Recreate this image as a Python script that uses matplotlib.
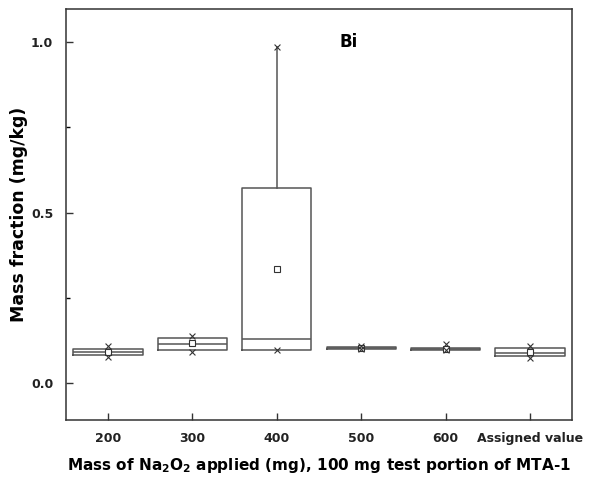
import matplotlib
matplotlib.use("Agg")
import matplotlib.pyplot as plt
from matplotlib.ticker import MultipleLocator, FormatStrFormatter

plt.rcParams["font.family"] = ["DejaVu Sans"]
plt.rcParams["mathtext.default"] = "bf"

# Bi results per Na2O2 mass (box statistics, mg/kg)
categories = ["200", "300", "400", "500", "600", "Assigned value"]
q1 = [0.082, 0.096, 0.097, 0.101, 0.098, 0.080]
median = [0.090, 0.114, 0.129, 0.103, 0.101, 0.089]
q3 = [0.099, 0.132, 0.572, 0.106, 0.104, 0.103]
whisker_low = [0.082, 0.096, 0.097, 0.101, 0.098, 0.080]
whisker_high = [0.099, 0.132, 0.985, 0.106, 0.104, 0.103]
mean = [0.090, 0.117, 0.334, 0.104, 0.101, 0.092]
minimum = [0.076, 0.092, 0.097, 0.099, 0.098, 0.073]
maximum = [0.108, 0.138, 0.985, 0.109, 0.114, 0.110]

edge = "#555555"

fig = plt.figure(figsize=(5.98, 4.82), dpi=100)
ax = fig.add_axes([0.110, 0.129, 0.847, 0.852])

stats = []
for i, name in enumerate(categories):
    stats.append(dict(label=name, q1=q1[i], med=median[i], q3=q3[i],
                      whislo=whisker_low[i], whishi=whisker_high[i],
                      mean=mean[i], fliers=[]))

positions = list(range(len(categories)))
ax.bxp(stats, positions=positions, widths=0.82, showcaps=False,
       showmeans=True, showfliers=False,
       boxprops=dict(color=edge, linewidth=1.1),
       medianprops=dict(color=edge, linewidth=1.1),
       whiskerprops=dict(color=edge, linewidth=1.1),
       meanprops=dict(marker="s", markerfacecolor="white",
                      markeredgecolor="#333333", markersize=4,
                      markeredgewidth=0.8))

ax.scatter(positions, minimum, marker="x", s=18, color="#333333", linewidths=0.8, zorder=4)
ax.scatter(positions, maximum, marker="x", s=18, color="#333333", linewidths=0.8, zorder=4)

ax.set_xlim(-0.5, 5.5)
ax.set_ylim(-0.108, 1.097)
ax.set_xticks(positions)
ax.set_xticklabels(categories)
ax.yaxis.set_major_locator(MultipleLocator(0.5))
ax.yaxis.set_minor_locator(MultipleLocator(0.25))
ax.yaxis.set_major_formatter(FormatStrFormatter("%.1f"))

ax.tick_params(axis="both", which="major", direction="in", length=5,
               width=1, labelsize=9, colors="#333333", pad=9)
ax.tick_params(axis="y", which="minor", direction="in", length=3, width=1)
for lbl in ax.get_xticklabels() + ax.get_yticklabels():
    lbl.set_fontweight("bold")
    lbl.set_color("#222222")
for s in ax.spines.values():
    s.set_color("#333333")
    s.set_linewidth(1.1)

ax.set_ylabel("Mass fraction (mg/kg)", fontsize=12.5, fontweight="bold", labelpad=2)
ax.set_xlabel("Mass of Na$_2$O$_2$ applied (mg), 100 mg test portion of MTA-1",
              fontsize=11, fontweight="bold", labelpad=8)

ax.text(2.74, 1.0, "Bi", fontsize=12, fontweight="bold", va="center", ha="left")

fig.savefig("out.png", dpi=100)
